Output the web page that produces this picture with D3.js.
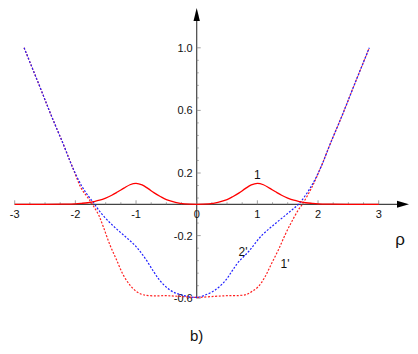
<!DOCTYPE html>
<meta charset="utf-8">
<style>
body { margin: 0; background: #fff; }
svg text { font-family: "Liberation Sans", Arial, sans-serif; fill: #111; }
</style>
<body>
<svg width="418" height="354"></svg>
<script src="https://cdn.jsdelivr.net/npm/d3@7"></script>
<script>

// curve 1 (solid red)
var rho1 = [-3,-2.5,-2.2,-2,-1.9,-1.8,-1.7,-1.6,-1.5,-1.4,-1.3,-1.2,-1.1,-1,-0.9,-0.8,-0.7,-0.6,-0.5,-0.35,-0.2,0,
            0.2,0.35,0.5,0.6,0.7,0.8,0.9,1,1.1,1.2,1.3,1.4,1.5,1.6,1.7,1.8,1.9,2,2.2,2.5,3];
var val1 = [0,0,0.001,0.003,0.006,0.01,0.017,0.026,0.04,0.058,0.08,0.103,0.125,0.134,0.124,0.1,0.073,0.05,0.03,0.013,0.003,0,
            0.003,0.013,0.03,0.05,0.073,0.1,0.124,0.134,0.125,0.103,0.08,0.058,0.04,0.026,0.017,0.01,0.006,0.003,0.001,0,0];

// curve 2' (dashed blue)
var rho2 = [-2.845,-2.6,-2.4,-2.2,-2.05,-1.9,-1.8,-1.7,-1.6,-1.45,-1.3,-1.15,-1.0,-0.85,-0.71,-0.6,-0.44,-0.275,0,
            0.137,0.3,0.467,0.577,0.686,0.86,1.07,1.29,1.51,1.7,1.9,2.05,2.2,2.4,2.6,2.845];
var val2 = [1.0,0.765,0.57,0.385,0.24,0.12,0.06,0.01,-0.045,-0.11,-0.165,-0.215,-0.27,-0.345,-0.43,-0.49,-0.548,-0.577,-0.595,
            -0.58,-0.549,-0.49,-0.43,-0.37,-0.30,-0.2,-0.125,-0.055,0.01,0.123,0.24,0.385,0.57,0.765,1.0];

// curve 1' (dashed red)
var rho3 = [-2.845,-2.6,-2.4,-2.2,-2.05,-1.9,-1.8,-1.72,-1.62,-1.54,-1.43,-1.32,-1.21,-1.1,-0.99,-0.88,-0.71,-0.5,-0.3,0,
            0.3,0.5,0.7,0.82,0.906,1.016,1.126,1.236,1.346,1.456,1.566,1.675,1.757,1.9,2.05,2.2,2.4,2.6,2.845];
var val3 = [1.0,0.765,0.57,0.385,0.24,0.10,0.045,0,-0.065,-0.143,-0.26,-0.356,-0.452,-0.516,-0.558,-0.578,-0.585,-0.584,-0.588,-0.595,
            -0.588,-0.584,-0.583,-0.576,-0.558,-0.526,-0.463,-0.377,-0.292,-0.196,-0.111,-0.036,0.01,0.11,0.24,0.385,0.57,0.765,1.0];

var yLabels = [1.0, 0.6, 0.2, -0.2, -0.6];
var xLabels = [-3, -2, -1, 0, 1, 2, 3];

var svg = d3.select("svg");

var x = d3.scaleLinear().domain([-3, 3]).range([14.7, 378.7]);
var y = d3.scaleLinear().domain([0, 1]).range([204.3, 47.8]);

var x0 = x(0), y0 = y(0);

// axes
var ax = svg.append("g");
ax.append("line").attr("x1", 14.7).attr("x2", 400).attr("y1", y0).attr("y2", y0)
  .attr("stroke", "#444").attr("stroke-width", 1.2);
ax.append("line").attr("x1", x0).attr("x2", x0).attr("y1", 18).attr("y2", y(-0.6))
  .attr("stroke", "#444").attr("stroke-width", 1.2);
ax.append("path").attr("d", "M409," + y0 + "L397," + (y0 - 3.5) + "L397," + (y0 + 3.5) + "Z").attr("fill", "#000");
ax.append("path").attr("d", "M" + x0 + ",8L" + (x0 - 3.2) + ",21L" + (x0 + 3.2) + ",21Z").attr("fill", "#000");

// x ticks
var xMinor = d3.range(-3, 3.01, 0.25);
ax.selectAll(".xm").data(xMinor).enter().append("line")
  .attr("x1", function(d) { return x(d); }).attr("x2", function(d) { return x(d); })
  .attr("y1", y0).attr("y2", function(d) { return Number.isInteger(d) ? y0 - 4 : y0 - 2; })
  .attr("stroke", "#888").attr("stroke-width", 0.8);
ax.selectAll(".xl").data(xLabels).enter().append("text")
  .attr("x", function(d) { return x(d); }).attr("y", y0 + 14)
  .attr("text-anchor", "middle").attr("font-size", 11)
  .text(function(d) { return d; });

// y ticks
var yMinor = d3.range(-0.6, 1.001, 0.08);
ax.selectAll(".ym").data(yMinor).enter().append("line")
  .attr("x1", x0).attr("x2", function(d, i) { return i % 5 == 0 ? x0 + 4 : x0 + 2; })
  .attr("y1", function(d) { return y(d); }).attr("y2", function(d) { return y(d); })
  .attr("stroke", "#888").attr("stroke-width", 0.8);
ax.selectAll(".yl").data(yLabels).enter().append("text")
  .attr("x", x0 - 4).attr("y", function(d) { return y(d) + 4; })
  .attr("text-anchor", "end").attr("font-size", 11)
  .text(function(d) { return d.toFixed(1); });

var line = d3.line()
  .x(function(d) { return x(d[0]); })
  .y(function(d) { return y(d[1]); })
  .curve(d3.curveCatmullRom);

svg.append("path").datum(d3.zip(rho3, val3)).attr("d", line)
  .attr("fill", "none").attr("stroke", "#ff2020").attr("stroke-width", 1.2)
  .attr("stroke-dasharray", "2,1.6");
svg.append("path").datum(d3.zip(rho2, val2)).attr("d", line)
  .attr("fill", "none").attr("stroke", "#2020ff").attr("stroke-width", 1.2)
  .attr("stroke-dasharray", "2,1.6");
svg.append("path").datum(d3.zip(rho1, val1)).attr("d", line)
  .attr("fill", "none").attr("stroke", "#ff0000").attr("stroke-width", 1.3);

// labels
svg.append("text").attr("x", x(1)).attr("y", 179).attr("text-anchor", "middle").attr("font-size", 12).text("1");
svg.append("text").attr("x", 243).attr("y", 256).attr("text-anchor", "middle").attr("font-size", 12).text("2'");
svg.append("text").attr("x", 285).attr("y", 268).attr("text-anchor", "middle").attr("font-size", 12).text("1'");
svg.append("text").attr("x", 400).attr("y", 245).attr("text-anchor", "middle").attr("font-size", 17).text("ρ");
svg.append("text").attr("x", x0).attr("y", 341).attr("text-anchor", "middle").attr("font-size", 15).text("b)");

</script>
</body>
